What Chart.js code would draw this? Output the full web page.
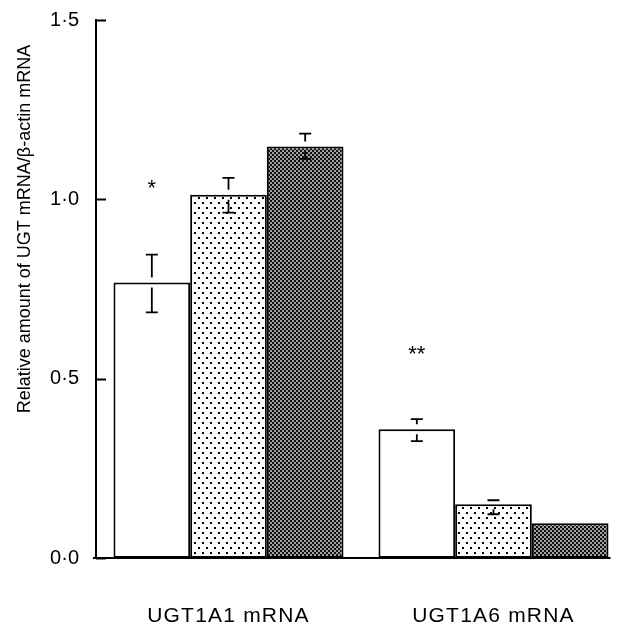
<!DOCTYPE html>
<html>
<head>
<meta charset="utf-8">
<script src="https://cdn.jsdelivr.net/npm/chart.js@4.4.1/dist/chart.umd.min.js"></script>
<style>
  html, body { margin: 0; padding: 0; background: #fff; }
  #wrap { width: 626px; height: 625px; }
</style>
</head>
<body>
<div id="wrap"><canvas id="chart" width="626" height="625"></canvas></div>
<script>
// data
var categories = ['UGT1A1 mRNA', 'UGT1A6 mRNA'];
var seriesNames = ['Group 1', 'Group 2', 'Group 3'];
var openValues = [0.768, 0.359];
var dottedValues = [1.013, 0.150];
var darkValues = [1.147, 0.097];
var openUpper = [0.846, 0.387];
var openLower = [0.685, 0.326];
var dottedUpper = [1.060, 0.161];
var dottedLower = [0.963, 0.122];
var darkUpper = [1.183, null];
var darkLower = [1.113, null];
var yTicks = [0, 0.5, 1.0, 1.5];
var starMarks = ['*', '**'];
var starValues = [1.044, 0.579];
var yTitle = 'Relative amount of UGT mRNA/\u03b2-actin mRNA';

var FONT = '"Liberation Sans", Arial, Helvetica, sans-serif';

function makePattern(w, h, paint) {
  var c = document.createElement('canvas');
  c.width = w; c.height = h;
  var g = c.getContext('2d');
  paint(g);
  return document.getElementById('chart').getContext('2d').createPattern(c, 'repeat');
}

var dotPattern = makePattern(8, 10, function (g) {
  g.fillStyle = '#fff';
  g.fillRect(0, 0, 8, 10);
  g.fillStyle = '#000';
  g.fillRect(2, 2, 2, 2);
  g.fillRect(6, 7, 2, 2);
});

var darkPattern = makePattern(4, 4, function (g) {
  g.fillStyle = '#111';
  g.fillRect(0, 0, 4, 4);
  g.fillStyle = '#a0a0a0';
  g.fillRect(0, 0, 2, 2);
  g.fillRect(2, 2, 2, 2);
});

var errors = [
  { upper: openUpper, lower: openLower },
  { upper: dottedUpper, lower: dottedLower },
  { upper: darkUpper, lower: darkLower }
];

// error bars, stars, inward y ticks, baseline and rotated y title
var extras = {
  id: 'extras',
  afterDatasetsDraw: function (chart) {
    var ctx = chart.ctx;
    var y = chart.scales.y;
    var area = chart.chartArea;
    ctx.save();
    ctx.strokeStyle = '#000';
    ctx.lineWidth = 1.8;
    errors.forEach(function (e, i) {
      var meta = chart.getDatasetMeta(i);
      meta.data.forEach(function (bar, j) {
        if (e.upper[j] == null) return;
        var x = bar.x;
        var yU = y.getPixelForValue(e.upper[j]);
        var yL = y.getPixelForValue(e.lower[j]);
        var yM = bar.y;
        ctx.beginPath();
        ctx.moveTo(x - 6, yU); ctx.lineTo(x + 6, yU);
        if (yM - 5 > yU) { ctx.moveTo(x, yU); ctx.lineTo(x, yM - 5); }
        ctx.moveTo(x - 6, yL); ctx.lineTo(x + 6, yL);
        if (yM + 5 < yL) { ctx.moveTo(x, yM + 5); ctx.lineTo(x, yL); }
        ctx.stroke();
      });
    });

    // significance stars over the first series
    var m0 = chart.getDatasetMeta(0);
    ctx.fillStyle = '#000';
    ctx.font = '22px ' + FONT;
    ctx.textAlign = 'center';
    ctx.textBaseline = 'alphabetic';
    starMarks.forEach(function (s, j) {
      ctx.fillText(s, m0.data[j].x, y.getPixelForValue(starValues[j]) + 11);
    });

    // inward tick marks on the y axis
    ctx.lineWidth = 2;
    ctx.beginPath();
    y.ticks.forEach(function (t) {
      var py = Math.round(y.getPixelForValue(t.value)) + 0.5;
      ctx.moveTo(area.left, py);
      ctx.lineTo(area.left + 10, py);
    });
    ctx.stroke();

    // baseline, ends just past the last bar
    var last = chart.getDatasetMeta(2).data[1];
    var by = y.getPixelForValue(0);
    ctx.beginPath();
    ctx.moveTo(area.left - 3, by);
    ctx.lineTo(last.x + last.width / 2 + 2, by);
    ctx.stroke();

    // y axis title
    ctx.translate(25, 229);
    ctx.rotate(-Math.PI / 2);
    ctx.font = '18px ' + FONT;
    ctx.textBaseline = 'middle';
    ctx.fillText(yTitle, 0, 0);
    ctx.restore();

    // spaced lettering for the category labels drawn after this
    ctx.letterSpacing = '1.2px';
  },
  afterDraw: function (chart) {
    chart.ctx.letterSpacing = '0px';
  }
};

new Chart(document.getElementById('chart'), {
  type: 'bar',
  data: {
    labels: categories,
    datasets: [
      { label: seriesNames[0], data: openValues, backgroundColor: '#fff' },
      { label: seriesNames[1], data: dottedValues, backgroundColor: dotPattern },
      { label: seriesNames[2], data: darkValues, backgroundColor: darkPattern }
    ].map(function (d) {
      d.borderColor = '#000';
      d.borderWidth = 2;
      d.borderSkipped = false;
      d.categoryPercentage = 0.868;
      d.barPercentage = 1.0;
      return d;
    })
  },
  options: {
    responsive: false,
    animation: false,
    layout: { padding: { top: 20, right: 0, left: 0, bottom: 0 } },
    plugins: {
      legend: { display: false },
      tooltip: { enabled: false }
    },
    scales: {
      x: {
        grid: { display: false, drawTicks: false },
        border: { display: false },
        ticks: { color: '#000', font: { family: FONT, size: 21 }, padding: 46, z: 1, maxRotation: 0 },
        afterFit: function (s) { s.height = 67; }
      },
      y: {
        min: 0,
        max: 1.5,
        afterBuildTicks: function (s) { s.ticks = yTicks.map(function (v) { return { value: v }; }); },
        // tick length only spaces the labels; the marks themselves are drawn inward by the plugin
        grid: { display: false, drawTicks: true, tickLength: 13 },
        border: { display: true, color: '#000', width: 2 },
        ticks: {
          color: '#000',
          font: { family: FONT, size: 20 },
          padding: 4,
          callback: function (v) { return v.toFixed(1).replace('.', '\u00b7'); }
        },
        afterFit: function (s) { s.width = 96; }
      }
    }
  },
  plugins: [extras]
});
</script>
</body>
</html>
